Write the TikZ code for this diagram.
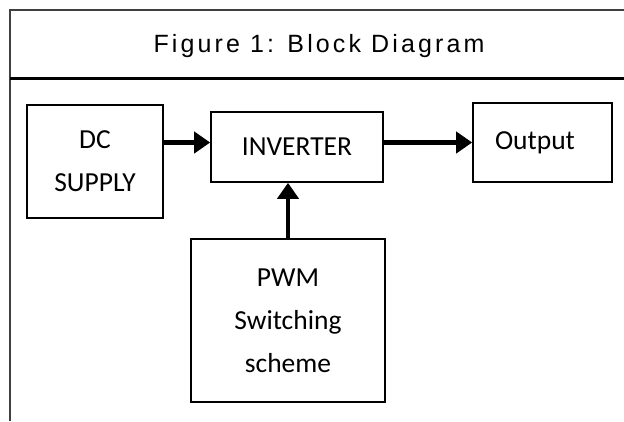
\documentclass[tikz,border=0pt]{standalone}
\usepackage{fontspec}
\setmainfont{Carlito}
\newfontfamily\titlefont[LetterSpace=12.5]{Liberation Sans}
\usetikzlibrary{arrows.meta,positioning,calc}

\begin{document}
\begin{tikzpicture}[x=1pt, y=-1pt,
  blk/.style={draw, line width=1.6pt, inner sep=0pt, align=center,
    font=\fontsize{27.5}{43}\selectfont},
  flow/.style={-{Triangle[length=16pt,width=21pt]}, line width=4.6pt}]
\useasboundingbox (0,0) rectangle (624,421);
% Frame
\draw[line width=2pt, black!75] (10,421) -- (10,9.5) -- (624,9.5);
\draw[line width=2.4pt] (10,78.5) -- (624,78.5);
\node[font=\titlefont\fontsize{25}{28}\selectfont, anchor=base] (title) at (319,52.5) {Figure 1: Block Diagram};
% Blocks
\node[blk, minimum width=136pt, minimum height=113pt] (dc) at (95,161.5) {DC\\SUPPLY};
\node[blk, minimum width=172pt, minimum height=70pt] (inv) at (297,147) {INVERTER};
\node[blk, minimum width=139pt, minimum height=79pt, text width=95pt, inner xsep=22pt, align=left] (out) at (542.5,142.5) {Output};
\node[blk, minimum width=194pt, minimum height=163pt] (pwm) at (288,320.5) {PWM\\Switching\\scheme};
% Arrows
\draw[flow] (dc.east |- out.west) -- (inv.west |- out.west);
\draw[flow] (inv.east |- out.west) -- (out.west);
\draw[flow] (pwm.north) -- (pwm.north |- inv.south);
\end{tikzpicture}
\end{document}
